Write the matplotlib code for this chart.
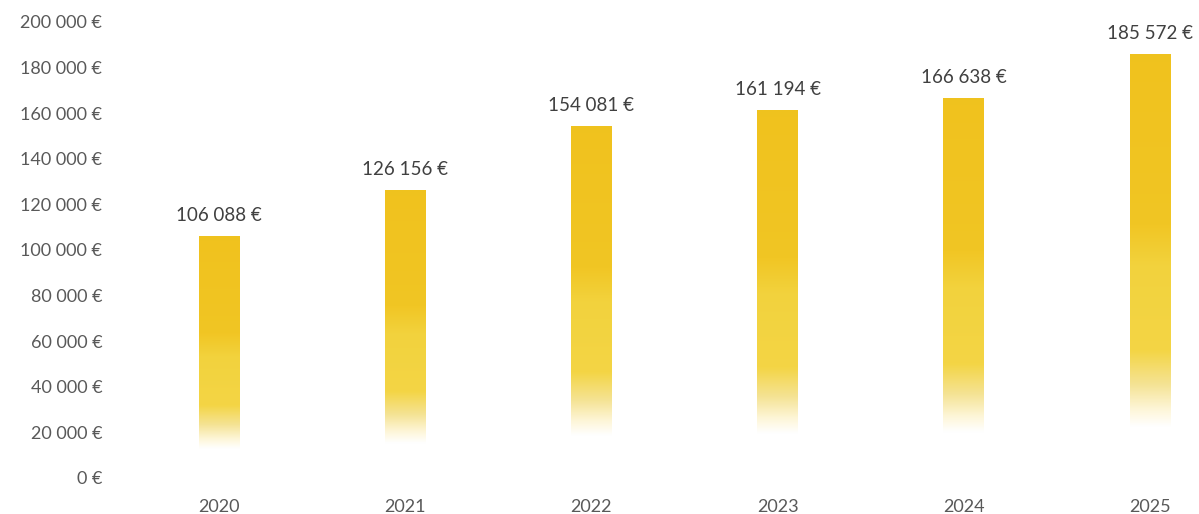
import numpy as np
import matplotlib
matplotlib.use("Agg")
import matplotlib.pyplot as plt
from matplotlib.colors import LinearSegmentedColormap

years = ["2020", "2021", "2022", "2023", "2024", "2025"]
values = [106088, 126156, 154081, 161194, 166638, 185572]
yticks = [0, 20000, 40000, 60000, 80000, 100000, 120000, 140000, 160000, 180000, 200000]

plt.rcParams['font.family'] = ['Lato', 'DejaVu Sans']

def fmt(v):
    return f"{v:,.0f}".replace(",", " ") + " €"

fig = plt.figure(figsize=(11.99, 5.14), dpi=100)
ax = fig.add_axes([112/1199, 36/514, (1199-112)/1199, 456/514])

# gradient colormap: 0 = bottom of bar, 1 = top
cmap = LinearSegmentedColormap.from_list("fade", [
    (0.00, (1.0, 1.0, 1.0)),
    (0.12, (1.0, 1.0, 1.0)),
    (0.16, (0.995, 0.965, 0.85)),
    (0.22, (0.960, 0.890, 0.58)),
    (0.30, (0.955, 0.835, 0.27)),
    (0.50, (0.950, 0.825, 0.24)),
    (0.60, (0.945, 0.775, 0.14)),
    (1.00, (0.941, 0.761, 0.118)),
])
grad = np.linspace(0, 1, 256).reshape(-1, 1)
w = 0.22
for i, v in enumerate(values):
    ax.imshow(grad, cmap=cmap, origin="lower", aspect="auto",
              extent=(i - w/2, i + w/2, 0, v), interpolation="bilinear", zorder=2)
    ax.annotate(fmt(v), xy=(i, v), xytext=(0, 9), textcoords="offset points",
                ha="center", va="bottom", fontsize=13.5, color="#404040",
                annotation_clip=False)

ax.set_xlim(-0.575, 5.263)
ax.set_ylim(0, 200000)
ax.set_xticks(range(len(years)))
ax.set_xticklabels(years)
ax.set_yticks(yticks)
ax.set_yticklabels([fmt(t) for t in yticks])
ax.tick_params(axis="both", length=0, labelsize=13, labelcolor="#595959")
ax.tick_params(axis="x", pad=15)
ax.tick_params(axis="y", pad=7)
for s in ax.spines.values():
    s.set_visible(False)

fig.savefig("out.png", dpi=100)
